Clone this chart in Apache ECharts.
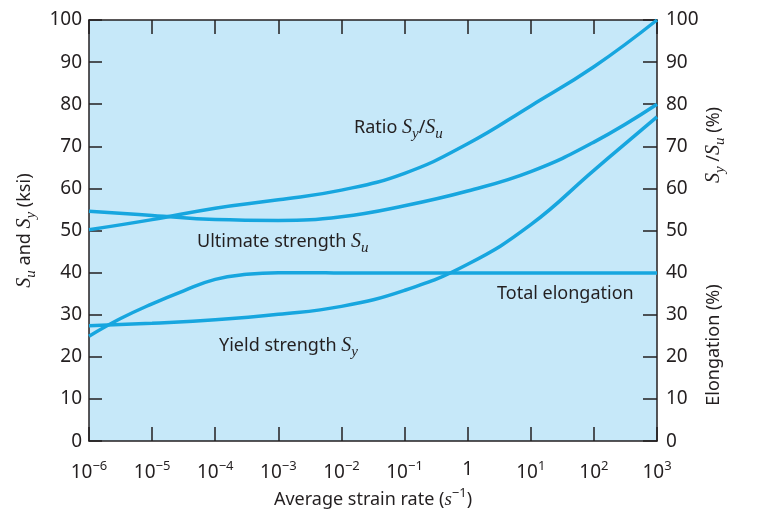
<!DOCTYPE html>
<html>
<head>
<meta charset="utf-8">
<script src="https://cdn.jsdelivr.net/npm/echarts@6/dist/echarts.min.js"></script>
<style>
html,body{margin:0;padding:0;background:#fff;}
#chart{width:759px;height:514px;}
</style>
</head>
<body>
<div id="chart"></div>
<script>
// x values: log10 of average strain rate (s^-1); the axis shows them as powers of ten
var ratioExp = [-6, -5, -4, -3, -2, -1, 0, 1, 2, 3];
var ratioVal = [50.2, 52.6, 55.3, 57.3, 59.6, 63.6, 70.6, 79.6, 88.9, 100];

var ultExp = [-6, -5, -4, -3, -2, -1, 0, 1, 2, 3];
var ultVal = [54.6, 53.6, 52.6, 52.4, 53.3, 55.9, 59.4, 64.0, 71.0, 80];

var yieldExp = [-6, -5, -4, -3, -2, -1, 0, 1, 2, 3];
var yieldVal = [27.4, 28.0, 28.8, 30.1, 32.0, 35.8, 42.0, 51.4, 64.3, 77];

var elongExp = [-6, -5.5, -5, -4.5, -4, -3.5, -3, -2.5, -2, -1, 0, 1, 2, 3];
var elongVal = [24.9, 29.1, 32.6, 35.7, 38.4, 39.6, 40.0, 40.0, 39.9, 39.9, 39.9, 39.9, 39.9, 39.9];

var xTickExps = [-6, -5, -4, -3, -2, -1, 0, 1, 2, 3];
var yTicks = [0, 10, 20, 30, 40, 50, 60, 70, 80, 90, 100];

var curveLabels = [
  'Ratio {s|S}{sub|y}{n|/}{s|S}{sub|u}',
  'Ultimate strength {s|S}{sub|u}',
  'Yield strength {s|S}{sub|y}',
  'Total elongation'
];

function pairs(ex, vals) {
  return ex.map(function (e, i) { return [e, vals[i]]; });
}

var INK = '#231f20';
var LINE = '#17a6df';
var FONT = 'Noto Sans';
var richBase = {
  s: {fontFamily: 'Liberation Serif', fontStyle: 'italic', fontSize: 20, color: INK},
  sub: {fontFamily: 'Liberation Serif', fontStyle: 'italic', fontSize: 15, color: INK, padding: [12, 0, 0, 0]},
  sup: {fontFamily: FONT, fontSize: 13, color: INK, padding: [0, 0, 12, 0]},
  n: {fontFamily: FONT, fontSize: 18, color: INK}
};

var chart = echarts.init(document.getElementById('chart'), null, {renderer: 'canvas'});

function lineSeries(ex, vals) {
  return {
    type: 'line',
    data: pairs(ex, vals),
    xAxisIndex: 0,
    yAxisIndex: 0,
    smooth: 0.45,
    showSymbol: false,
    symbol: 'none',
    lineStyle: {color: LINE, width: 3.5},
    clip: true,
    silent: true
  };
}

function expLabel(v) {
  var e = Math.round(v);
  if (xTickExps.indexOf(e) < 0) return '';
  if (e === 0) return '1';
  return '10{sup|' + (e < 0 ? '\u2212' : '') + Math.abs(e) + '}';
}

var axisLineStyle = {color: INK, width: 1.5};

var option = {
  animation: false,
  backgroundColor: '#ffffff',
  grid: {left: 89, right: 102, top: 20, bottom: 64, show: true, backgroundColor: '#c6e8f9', borderWidth: 0},
  xAxis: [{
    type: 'value', min: xTickExps[0], max: xTickExps[xTickExps.length - 1], interval: 1,
    position: 'bottom',
    axisLine: {show: true, onZero: false, lineStyle: axisLineStyle},
    axisTick: {show: true, inside: true, length: 14, lineStyle: axisLineStyle},
    splitLine: {show: false},
    axisLabel: {
      formatter: expLabel, color: INK, fontFamily: FONT, fontSize: 19, margin: 19,
      rich: {sup: richBase.sup}
    },
    name: 'Average strain rate ({si|s}{sup|\u22121})',
    nameLocation: 'middle', nameGap: 45,
    nameTextStyle: {color: INK, fontFamily: FONT, fontSize: 18,
      rich: {si: {fontFamily: 'Liberation Serif', fontStyle: 'italic', fontSize: 19, color: INK}, sup: richBase.sup}}
  }, {
    type: 'value', min: xTickExps[0], max: xTickExps[xTickExps.length - 1], interval: 1,
    position: 'top',
    axisLine: {show: true, onZero: false, lineStyle: axisLineStyle},
    axisTick: {show: true, inside: true, length: 14, lineStyle: axisLineStyle},
    axisLabel: {show: false},
    splitLine: {show: false}
  }],
  yAxis: [{
    type: 'value', min: yTicks[0], max: yTicks[yTicks.length - 1], interval: 10,
    position: 'left',
    axisLine: {show: true, onZero: false, lineStyle: axisLineStyle},
    axisTick: {show: true, inside: true, length: 13, lineStyle: axisLineStyle},
    splitLine: {show: false},
    axisLabel: {color: INK, fontFamily: FONT, fontSize: 19, margin: 7},
    name: '{s|S}{sub|u}{n| and }{s|S}{sub|y}{n| (ksi)}',
    nameLocation: 'middle', nameGap: 42, nameRotate: 90,
    nameTextStyle: {color: INK, fontFamily: FONT, fontSize: 18, rich: richBase}
  }, {
    type: 'value', min: yTicks[0], max: yTicks[yTicks.length - 1], interval: 10,
    position: 'right',
    axisLine: {show: true, onZero: false, lineStyle: axisLineStyle},
    axisTick: {show: true, inside: true, length: 14, lineStyle: axisLineStyle},
    splitLine: {show: false},
    axisLabel: {color: INK, fontFamily: FONT, fontSize: 19, margin: 9}
  }],
  series: [
    lineSeries(ratioExp, ratioVal),
    lineSeries(ultExp, ultVal),
    lineSeries(yieldExp, yieldVal),
    lineSeries(elongExp, elongVal)
  ],
  graphic: [
    {type: 'text', x: 354, y: 128, style: {text: curveLabels[0], fontFamily: FONT, fontSize: 18, fill: INK, verticalAlign: 'middle', rich: richBase}},
    {type: 'text', x: 197, y: 242, style: {text: curveLabels[1], fontFamily: FONT, fontSize: 18, fill: INK, verticalAlign: 'middle', rich: richBase}},
    {type: 'text', x: 219, y: 346, style: {text: curveLabels[2], fontFamily: FONT, fontSize: 18, fill: INK, verticalAlign: 'middle', rich: richBase}},
    {type: 'text', x: 497, y: 294, style: {text: curveLabels[3], fontFamily: FONT, fontSize: 18, fill: INK, verticalAlign: 'middle'}},
    {type: 'text', x: 714, y: 145, rotation: Math.PI / 2, style: {text: '{s|S}{sub|y}{n| /}{s|S}{sub|u}{n| (%)}', fontFamily: FONT, fontSize: 18, fill: INK, align: 'center', verticalAlign: 'middle', rich: richBase}},
    {type: 'text', x: 714, y: 345, rotation: Math.PI / 2, style: {text: 'Elongation (%)', fontFamily: FONT, fontSize: 18, fill: INK, align: 'center', verticalAlign: 'middle'}}
  ]
};
chart.setOption(option);
</script>
</body>
</html>
